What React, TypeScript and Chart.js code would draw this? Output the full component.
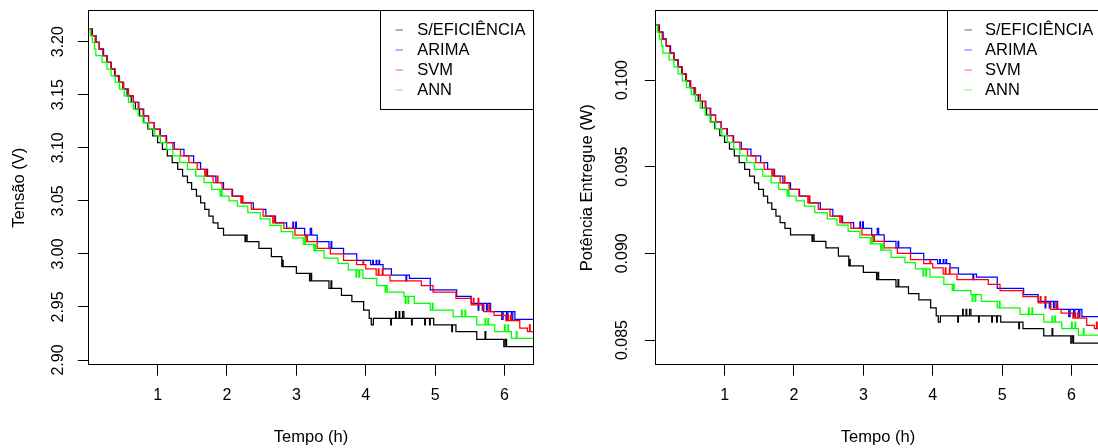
import React, { useEffect, useRef } from "react";
import { Chart, registerables } from "chart.js";

Chart.register(...registerables);

// ---------- text / categories ----------
const SERIES_LABELS = ["S/EFICIÊNCIA", "ARIMA", "SVM", "ANN"];
const SERIES_COLORS = ["#000000", "#0000ff", "#ff0000", "#00ff00"];
const X_TITLE = "Tempo (h)";
const V_TITLE = "Tensão (V)";
const P_TITLE = "Potência Entregue (W)";

// ---------- axes ----------
const X_TICKS = [1, 2, 3, 4, 5, 6];
const X_MIN = 0.004;
const X_MAX = 6.418;
const V_TICKS = [2.9, 2.95, 3.0, 3.05, 3.1, 3.15, 3.2];
const V_MIN = 2.89529;
const V_MAX = 3.22941;
const P_TICKS = [0.085, 0.09, 0.095, 0.1];
const P_MIN = 0.083558;
const P_MAX = 0.10401;

// ---------- S/EFICIÊNCIA ----------
const T_BASE = [0.00,0.06,0.11,0.16,0.22,0.27,0.33,0.38,0.44,0.50,0.56,0.62,0.68,0.74,0.80,0.86,0.93,1.00,1.07,1.14,1.21,1.29,1.36,1.43,1.49,1.56,1.62,1.68,1.74,1.80,1.87,1.95,2.26,2.27,2.29,2.46,2.64,2.79,2.80,2.81,3.00,3.19,3.21,3.22,3.47,3.50,3.51,3.65,3.80,3.97,4.05,4.08,4.11,4.36,4.37,4.43,4.44,4.48,4.49,4.53,4.55,4.66,4.67,4.85,4.86,4.92,4.93,4.98,5.24,5.25,5.30,5.60,5.72,5.73,5.99,6.01,6.03,6.42];
const V_BASE = [3.2120,3.2057,3.1994,3.1931,3.1868,3.1805,3.1742,3.1679,3.1616,3.1553,3.1490,3.1427,3.1364,3.1301,3.1238,3.1175,3.1112,3.1049,3.0986,3.0923,3.0860,3.0797,3.0734,3.0671,3.0608,3.0545,3.0482,3.0419,3.0356,3.0293,3.0240,3.0178,3.0115,3.0178,3.0115,3.0053,2.9974,2.9880,2.9940,2.9880,2.9817,2.9745,2.9817,2.9745,2.9676,2.9745,2.9676,2.9610,2.9550,2.9470,2.9393,2.9330,2.9393,2.9330,2.9393,2.9455,2.9393,2.9455,2.9393,2.9455,2.9393,2.9330,2.9393,2.9330,2.9393,2.9330,2.9393,2.9330,2.9267,2.9330,2.9267,2.9195,2.9267,2.9195,2.9125,2.9195,2.9125,2.9125];
const P_BASE = [0.103169,0.102765,0.102362,0.101959,0.101557,0.101156,0.100755,0.100356,0.099957,0.099559,0.099162,0.098766,0.098370,0.097975,0.097581,0.097188,0.096796,0.096404,0.096013,0.095623,0.095234,0.094846,0.094458,0.094071,0.093685,0.093300,0.092915,0.092532,0.092149,0.091767,0.091446,0.091071,0.090691,0.091071,0.090691,0.090318,0.089844,0.089281,0.089640,0.089281,0.088905,0.088477,0.088905,0.088477,0.088067,0.088477,0.088067,0.087675,0.087320,0.086848,0.086395,0.086025,0.086395,0.086025,0.086395,0.086760,0.086395,0.086760,0.086395,0.086760,0.086395,0.086025,0.086395,0.086025,0.086395,0.086025,0.086395,0.086025,0.085656,0.086025,0.085656,0.085235,0.085656,0.085235,0.084827,0.085235,0.084827,0.084827];

// ---------- ARIMA ----------
const T_ARIMA = [0.00,0.05,0.11,0.16,0.22,0.27,0.33,0.39,0.45,0.51,0.58,0.65,0.73,0.80,0.87,0.95,1.04,1.13,1.24,1.38,1.52,1.62,1.72,1.84,1.95,2.08,2.22,2.38,2.56,2.70,2.86,2.95,2.96,2.99,3.00,3.12,3.20,3.22,3.30,3.47,3.50,3.51,3.68,3.87,4.07,4.10,4.11,4.15,4.16,4.19,4.20,4.25,4.37,4.58,4.59,4.63,4.93,5.31,5.52,5.62,5.63,5.68,5.70,5.74,5.76,5.80,5.96,5.98,6.03,6.05,6.10,6.12,6.15,6.42];
const V_ARIMA = [3.2120,3.2057,3.1994,3.1931,3.1868,3.1805,3.1742,3.1679,3.1616,3.1553,3.1490,3.1427,3.1364,3.1301,3.1238,3.1175,3.1112,3.1049,3.0986,3.0923,3.0860,3.0797,3.0734,3.0671,3.0608,3.0545,3.0482,3.0419,3.0356,3.0293,3.0240,3.0300,3.0240,3.0300,3.0240,3.0178,3.0240,3.0178,3.0115,3.0053,3.0115,3.0053,3.0000,2.9940,2.9900,2.9940,2.9900,2.9940,2.9900,2.9940,2.9900,2.9860,2.9800,2.9745,2.9800,2.9770,2.9660,2.9600,2.9534,2.9470,2.9534,2.9470,2.9534,2.9470,2.9534,2.9455,2.9384,2.9455,2.9384,2.9455,2.9384,2.9455,2.9384,2.9384];
const P_ARIMA = [0.103169,0.102765,0.102362,0.101959,0.101557,0.101156,0.100755,0.100356,0.099957,0.099559,0.099162,0.098766,0.098370,0.097975,0.097581,0.097188,0.096796,0.096404,0.096013,0.095623,0.095234,0.094846,0.094458,0.094071,0.093685,0.093300,0.092915,0.092532,0.092149,0.091767,0.091446,0.091809,0.091446,0.091809,0.091446,0.091071,0.091446,0.091071,0.090691,0.090318,0.090691,0.090318,0.090000,0.089640,0.089401,0.089640,0.089401,0.089640,0.089401,0.089640,0.089401,0.089162,0.088804,0.088477,0.088804,0.088625,0.087972,0.087616,0.087226,0.086848,0.087226,0.086848,0.087226,0.086848,0.087226,0.086760,0.086342,0.086760,0.086342,0.086760,0.086342,0.086760,0.086342,0.086342];

// ---------- SVM ----------
const T_SVM = [0.00,0.05,0.10,0.16,0.21,0.27,0.33,0.39,0.45,0.51,0.58,0.65,0.72,0.79,0.87,0.95,1.03,1.12,1.22,1.33,1.45,1.57,1.68,1.70,1.71,1.80,1.86,1.87,1.93,2.07,2.20,2.22,2.23,2.35,2.52,2.66,2.68,2.69,2.82,2.98,3.13,3.15,3.16,3.30,3.49,3.68,3.87,3.96,3.97,4.00,4.15,4.18,4.19,4.24,4.25,4.35,4.80,4.97,5.30,5.52,5.55,5.56,5.62,5.63,5.70,5.78,5.79,5.85,6.02,6.05,6.06,6.09,6.10,6.22,6.33,6.36,6.37,6.42];
const V_SVM = [3.2120,3.2057,3.1994,3.1931,3.1868,3.1805,3.1742,3.1679,3.1616,3.1553,3.1490,3.1427,3.1364,3.1301,3.1238,3.1175,3.1112,3.1049,3.0986,3.0923,3.0860,3.0797,3.0734,3.0797,3.0734,3.0671,3.0734,3.0671,3.0608,3.0545,3.0482,3.0545,3.0482,3.0419,3.0356,3.0293,3.0356,3.0293,3.0240,3.0178,3.0115,3.0178,3.0115,3.0053,3.0000,2.9940,2.9900,2.9940,2.9900,2.9860,2.9800,2.9860,2.9800,2.9860,2.9800,2.9745,2.9700,2.9640,2.9580,2.9520,2.9580,2.9520,2.9580,2.9520,2.9455,2.9520,2.9455,2.9420,2.9370,2.9420,2.9370,2.9420,2.9370,2.9300,2.9267,2.9330,2.9267,2.9267];
const P_SVM = [0.103169,0.102765,0.102362,0.101959,0.101557,0.101156,0.100755,0.100356,0.099957,0.099559,0.099162,0.098766,0.098370,0.097975,0.097581,0.097188,0.096796,0.096404,0.096013,0.095623,0.095234,0.094846,0.094458,0.094846,0.094458,0.094071,0.094458,0.094071,0.093685,0.093300,0.092915,0.093300,0.092915,0.092532,0.092149,0.091767,0.092149,0.091767,0.091446,0.091071,0.090691,0.091071,0.090691,0.090318,0.090000,0.089640,0.089401,0.089640,0.089401,0.089162,0.088804,0.089162,0.088804,0.089162,0.088804,0.088477,0.088209,0.087853,0.087498,0.087143,0.087498,0.087143,0.087498,0.087143,0.086760,0.087143,0.086760,0.086554,0.086260,0.086554,0.086260,0.086554,0.086260,0.085849,0.085656,0.086025,0.085656,0.085656];

// ---------- ANN ----------
const T_ANN = [0.00,0.03,0.06,0.09,0.11,0.20,0.27,0.33,0.39,0.45,0.52,0.58,0.65,0.72,0.79,0.87,0.96,1.04,1.13,1.22,1.32,1.43,1.55,1.67,1.78,1.90,1.92,1.93,2.03,2.15,2.30,2.48,2.62,2.78,2.95,3.10,3.12,3.13,3.25,3.27,3.28,3.40,3.60,3.75,3.86,3.87,3.90,3.91,3.96,4.16,4.28,4.29,4.31,4.55,4.57,4.58,4.61,4.62,4.70,4.93,4.96,4.97,5.26,5.38,5.39,5.43,5.44,5.60,5.72,5.73,5.76,5.77,5.86,6.00,6.01,6.05,6.06,6.10,6.17,6.18,6.42];
const V_ANN = [3.2120,3.2057,3.1994,3.1931,3.1868,3.1805,3.1742,3.1679,3.1616,3.1553,3.1490,3.1427,3.1364,3.1301,3.1238,3.1175,3.1112,3.1049,3.0986,3.0923,3.0860,3.0797,3.0734,3.0671,3.0608,3.0545,3.0608,3.0545,3.0500,3.0450,3.0390,3.0330,3.0270,3.0210,3.0150,3.0090,3.0150,3.0090,3.0030,3.0090,3.0030,2.9960,2.9910,2.9850,2.9780,2.9850,2.9780,2.9850,2.9770,2.9700,2.9640,2.9700,2.9640,2.9600,2.9534,2.9600,2.9534,2.9600,2.9534,2.9470,2.9534,2.9470,2.9408,2.9470,2.9408,2.9470,2.9408,2.9330,2.9390,2.9330,2.9390,2.9330,2.9267,2.9330,2.9267,2.9330,2.9267,2.9204,2.9267,2.9204,2.9204];
const P_ANN = [0.103169,0.102765,0.102362,0.101959,0.101557,0.101156,0.100755,0.100356,0.099957,0.099559,0.099162,0.098766,0.098370,0.097975,0.097581,0.097188,0.096796,0.096404,0.096013,0.095623,0.095234,0.094846,0.094458,0.094071,0.093685,0.093300,0.093685,0.093300,0.093025,0.092720,0.092355,0.091991,0.091627,0.091264,0.090902,0.090541,0.090902,0.090541,0.090180,0.090541,0.090180,0.089760,0.089461,0.089102,0.088685,0.089102,0.088685,0.089102,0.088625,0.088209,0.087853,0.088209,0.087853,0.087616,0.087226,0.087616,0.087226,0.087616,0.087226,0.086848,0.087226,0.086848,0.086483,0.086848,0.086483,0.086848,0.086483,0.086025,0.086377,0.086025,0.086377,0.086025,0.085656,0.086025,0.085656,0.086025,0.085656,0.085287,0.085656,0.085287,0.085287];

const TIMES = [T_BASE, T_ARIMA, T_SVM, T_ANN];
const VOLTS = [V_BASE, V_ARIMA, V_SVM, V_ANN];
const POWERS = [P_BASE, P_ARIMA, P_SVM, P_ANN];

const FONT = "'Liberation Sans', Arial, Helvetica, sans-serif";
const TICK_FONT = { family: FONT, size: 16 };
const LABEL_FONT = { family: FONT, size: 16.5 };

interface PanelSpec {
  values: number[][];
  yTicks: number[];
  yDigits: number;
  yMin: number;
  yMax: number;
  yTitle: string;
  yTitlePad: number;
  yTickPad: number;
  yAxisWidth: number;
  padRight: number;
  legendTextDx: number;
  legendLineDx: number;
}

function makePlugin(spec: PanelSpec) {
  return {
    id: "rFrameLegend",
    afterDraw(chart: any) {
      const { ctx, chartArea } = chart;
      const L = Math.floor(chartArea.left) + 0.5;
      const T = Math.floor(chartArea.top) + 0.5;
      const R = Math.floor(chartArea.right) + 0.5;
      const B = Math.floor(chartArea.bottom - 0.5) + 0.5;
      ctx.save();
      ctx.strokeStyle = "#000";
      ctx.lineWidth = 1;
      ctx.strokeRect(L, T, R - L, B - T);
      // legend box (top-right, inside plot)
      const lw = 153.5;
      const lh = 99;
      const lx = Math.floor(chartArea.right - lw) + 0.5;
      ctx.fillStyle = "#fff";
      ctx.fillRect(lx, T, R - lx, lh);
      ctx.strokeRect(lx, T, R - lx, lh);
      ctx.font = `${LABEL_FONT.size}px ${FONT}`;
      ctx.textBaseline = "middle";
      ctx.textAlign = "left";
      SERIES_LABELS.forEach((label, i) => {
        const y = chartArea.top + 19.5 + 20 * i;
        ctx.strokeStyle = SERIES_COLORS[i];
        ctx.globalAlpha = 0.6;
        ctx.beginPath();
        ctx.moveTo(lx + spec.legendLineDx, Math.round(y));
        ctx.lineTo(lx + spec.legendLineDx + 7.5, Math.round(y));
        ctx.stroke();
        ctx.globalAlpha = 1;
        ctx.fillStyle = "#000";
        ctx.fillText(label, lx + spec.legendTextDx, y);
      });
      ctx.restore();
    },
  };
}

function buildConfig(spec: PanelSpec): any {
  const datasets = SERIES_LABELS.map((label, i) => ({
    label,
    data: TIMES[i].map((x, j) => ({ x, y: spec.values[i][j] })),
    borderColor: SERIES_COLORS[i],
    backgroundColor: SERIES_COLORS[i],
    borderWidth: 1.25,
    pointRadius: 0,
    stepped: true,
    fill: false,
    order: SERIES_LABELS.length - 1 - i,
  }));
  return {
    type: "line",
    data: { datasets },
    options: {
      responsive: false,
      animation: false,
      events: [],
      layout: { padding: { left: 0, right: spec.padRight, top: 10.5, bottom: 0 } },
      plugins: {
        legend: { display: false },
        tooltip: { enabled: false },
        title: { display: false },
      },
      scales: {
        x: {
          type: "linear",
          min: X_MIN,
          max: X_MAX,
          afterBuildTicks: (s: any) => {
            s.ticks = X_TICKS.map((v) => ({ value: v }));
          },
          afterFit: (s: any) => {
            s.height = 83;
            s.paddingLeft = 0;
            s.paddingRight = 0;
          },
          ticks: {
            autoSkip: false,
            minRotation: 0,
            maxRotation: 0,
            padding: 10.5,
            color: "#000",
            font: TICK_FONT,
            callback: (v: any) => String(v),
          },
          grid: {
            display: true,
            drawOnChartArea: false,
            drawTicks: true,
            tickLength: 10.7,
            color: "#000",
            lineWidth: 1,
          },
          border: { display: false },
          title: {
            display: true,
            text: X_TITLE,
            color: "#000",
            font: LABEL_FONT,
            padding: { top: 0, bottom: 1.1 },
          },
        },
        y: {
          type: "linear",
          min: spec.yMin,
          max: spec.yMax,
          afterBuildTicks: (s: any) => {
            s.ticks = spec.yTicks.map((v) => ({ value: v }));
          },
          afterFit: (s: any) => {
            s.width = spec.yAxisWidth;
            s.paddingTop = 0;
            s.paddingBottom = 0;
          },
          ticks: {
            autoSkip: false,
            minRotation: 90,
            maxRotation: 90,
            crossAlign: "center",
            padding: spec.yTickPad,
            color: "#000",
            font: TICK_FONT,
            callback: (v: any) => Number(v).toFixed(spec.yDigits),
          },
          grid: {
            display: true,
            drawOnChartArea: false,
            drawTicks: true,
            tickLength: 10.7,
            color: "#000",
            lineWidth: 1,
          },
          border: { display: false },
          title: {
            display: true,
            text: spec.yTitle,
            color: "#000",
            font: LABEL_FONT,
            padding: { top: spec.yTitlePad, bottom: 0 },
          },
        },
      },
    },
    plugins: [makePlugin(spec)],
  };
}

export default function App() {
  const leftRef = useRef<HTMLCanvasElement | null>(null);
  const rightRef = useRef<HTMLCanvasElement | null>(null);

  useEffect(() => {
    const left = new Chart(
      leftRef.current as HTMLCanvasElement,
      buildConfig({
        values: VOLTS,
        yTicks: V_TICKS,
        yDigits: 2,
        yMin: V_MIN,
        yMax: V_MAX,
        yTitle: V_TITLE,
        yTitlePad: 9.8,
        yTickPad: 3.7,
        yAxisWidth: 88.5,
        padRight: 15.5,
        legendTextDx: 36.7,
        legendLineDx: 15,
      })
    );
    const right = new Chart(
      rightRef.current as HTMLCanvasElement,
      buildConfig({
        values: POWERS,
        yTicks: P_TICKS,
        yDigits: 3,
        yMin: P_MIN,
        yMax: P_MAX,
        yTitle: P_TITLE,
        yTitlePad: 28.6,
        yTickPad: 1.8,
        yAxisWidth: 106.5,
        padRight: 0.5,
        legendTextDx: 37.5,
        legendLineDx: 17,
      })
    );
    return () => {
      left.destroy();
      right.destroy();
    };
  }, []);

  return (
    <div
      style={{
        position: "absolute",
        left: 0,
        top: 0,
        width: 1098,
        height: 448,
        overflow: "hidden",
        background: "#ffffff",
      }}
    >
      <canvas
        ref={leftRef}
        width={549}
        height={448}
        style={{ position: "absolute", left: 0, top: 0, width: 549, height: 448 }}
      />
      <canvas
        ref={rightRef}
        width={552}
        height={448}
        style={{ position: "absolute", left: 549, top: 0, width: 552, height: 448 }}
      />
    </div>
  );
}
